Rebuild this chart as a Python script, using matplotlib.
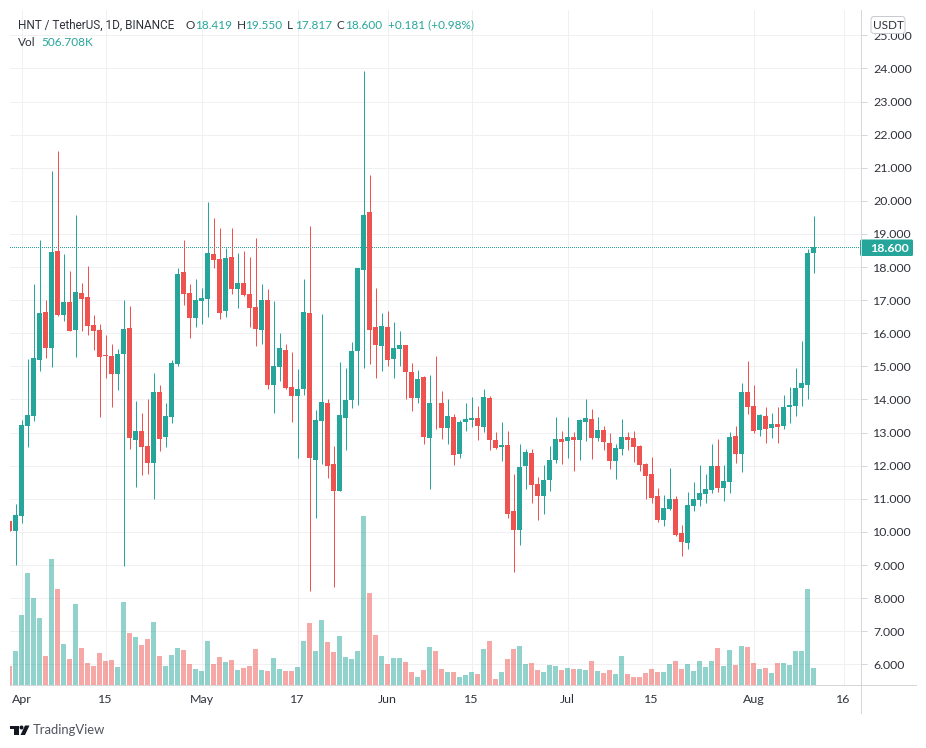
# -*- coding: utf-8 -*-
import numpy as np
import matplotlib
matplotlib.use("Agg")
import matplotlib.pyplot as plt
from matplotlib.patches import Circle, FancyBboxPatch, Polygon, Rectangle

plt.rcParams["font.family"] = ["Lato", "DejaVu Sans"]

# ---- data (day 0 = 1 Apr) ----
first_day = -2
opens = [10.33, 10.04, 10.48, 13.21, 13.50, 15.19, 16.64, 15.56, 18.49, 16.55, 16.95, 16.10, 17.22, 17.10, 16.25, 16.10,
         15.34, 15.31, 14.77, 15.37, 16.16, 12.78, 13.05, 12.60, 12.08, 14.23, 12.87, 13.47, 15.07, 17.85, 17.22, 16.46,
         16.98, 17.04, 18.40, 18.25, 16.67, 18.31, 17.34, 17.52, 17.18, 16.80, 16.10, 17.00, 14.43, 14.97, 15.49, 14.39,
         14.12, 14.31, 16.61, 12.18, 13.34, 13.88, 12.04, 11.24, 13.45, 13.97, 15.46, 17.91, 19.65, 16.19, 15.61, 16.19,
         15.22, 15.52, 15.64, 14.82, 14.06, 14.68, 12.84, 13.90, 13.90, 13.14, 13.47, 12.36, 13.32, 13.38, 13.44, 13.17,
         14.05, 12.78, 12.57, 12.63, 10.63, 10.06, 11.99, 12.39, 11.45, 11.09, 11.57, 12.17, 12.81, 12.75, 12.87, 12.78,
         13.32, 13.41, 12.84, 13.08, 12.69, 12.14, 12.51, 12.87, 12.84, 12.60, 12.05, 11.75, 11.09, 10.36, 10.69, 11.00,
         9.97, 9.67, 10.79, 10.97, 11.15, 11.27, 11.99, 11.33, 11.51, 12.90, 12.36, 14.23, 13.81, 13.08, 13.50, 13.14,
         13.26, 13.20, 13.78, 13.81, 14.35, 14.44, 18.419]
highs = [10.33, 10.84, 13.38, 15.22, 17.49, 18.82, 17.00, 20.90, 21.51, 18.40, 17.88, 19.57, 17.52, 18.03, 16.55, 16.28,
         15.95, 15.68, 15.53, 17.00, 16.82, 13.95, 13.59, 14.00, 14.80, 14.44, 13.89, 15.19, 17.97, 18.82, 17.49, 17.64,
         17.37, 19.97, 19.49, 19.18, 18.57, 19.19, 18.42, 18.49, 18.31, 18.88, 17.48, 17.34, 16.97, 16.00, 15.67, 15.43,
         14.92, 17.64, 19.25, 13.67, 16.58, 14.03, 12.61, 15.13, 14.95, 15.73, 17.97, 23.92, 20.79, 17.37, 16.61, 16.67,
         16.34, 16.06, 15.64, 15.09, 14.88, 14.71, 14.74, 15.32, 14.26, 14.02, 13.56, 13.38, 13.90, 14.08, 13.81, 14.32,
         14.11, 13.02, 13.32, 13.05, 11.75, 12.66, 12.51, 12.51, 11.66, 12.02, 12.60, 13.47, 13.05, 13.47, 13.02, 13.41,
         14.02, 13.72, 13.47, 13.20, 12.99, 12.66, 13.41, 13.02, 13.05, 12.62, 12.08, 12.27, 11.33, 11.12, 11.93, 11.09,
         10.21, 11.21, 11.51, 12.02, 11.75, 12.66, 12.81, 12.02, 13.02, 13.20, 14.50, 15.17, 14.44, 13.56, 13.78, 13.59,
         13.78, 14.14, 14.38, 14.95, 15.77, 18.55, 19.55]
lows = [10.04, 9.00, 10.28, 12.57, 13.35, 14.86, 15.25, 14.98, 16.52, 16.37, 16.07, 15.28, 16.07, 15.95, 15.50, 13.47,
        14.65, 13.77, 14.29, 8.97, 12.50, 11.36, 11.72, 11.75, 11.00, 12.44, 12.57, 13.29, 15.01, 16.86, 15.86, 16.19,
        16.28, 16.49, 17.98, 16.43, 16.49, 17.18, 16.76, 17.13, 16.19, 15.61, 15.67, 14.33, 13.58, 14.55, 14.31, 13.31,
        12.24, 14.15, 8.21, 10.43, 12.04, 11.64, 8.34, 11.24, 12.48, 13.75, 13.82, 14.95, 15.06, 14.65, 14.86, 15.00,
        14.65, 15.00, 14.03, 13.64, 13.88, 12.66, 11.30, 13.11, 12.81, 12.66, 12.02, 12.24, 13.05, 13.17, 12.78, 13.02,
        12.48, 12.51, 12.14, 10.42, 8.79, 9.61, 11.30, 10.88, 10.36, 10.54, 11.24, 12.08, 12.05, 12.24, 11.84, 12.17,
        12.75, 12.20, 12.75, 12.48, 11.90, 11.60, 12.33, 12.48, 12.11, 11.84, 11.00, 10.88, 10.30, 10.18, 10.66, 9.88,
        9.27, 9.49, 10.63, 10.79, 10.88, 11.18, 11.21, 10.94, 11.18, 12.08, 11.81, 13.56, 12.99, 12.90, 12.69, 12.84,
        12.69, 13.11, 13.29, 13.50, 13.81, 14.02, 17.817]
closes = [10.04, 10.51, 13.23, 13.53, 15.25, 16.61, 15.56, 18.46, 16.55, 16.95, 16.07, 17.25, 17.04, 16.22, 16.07, 15.28,
          15.31, 14.77, 15.37, 16.13, 12.84, 13.05, 12.57, 12.08, 14.23, 12.81, 13.50, 15.10, 17.79, 17.19, 16.46, 17.00,
          17.07, 18.43, 18.22, 16.61, 18.28, 17.34, 17.52, 17.15, 16.76, 16.13, 17.00, 14.43, 15.00, 15.55, 14.36, 14.12,
          14.33, 16.64, 12.24, 13.37, 13.91, 12.00, 11.24, 13.52, 13.97, 15.46, 17.97, 19.58, 16.10, 15.64, 16.22, 15.19,
          15.55, 15.64, 14.82, 14.06, 14.61, 12.87, 13.90, 13.88, 13.14, 13.50, 12.33, 13.32, 13.41, 13.44, 13.20, 14.08,
          12.78, 12.54, 12.63, 10.54, 10.06, 11.96, 12.42, 11.42, 11.09, 11.57, 12.17, 12.81, 12.72, 12.87, 12.78, 13.38,
          13.44, 12.84, 13.08, 12.72, 12.14, 12.54, 12.87, 12.78, 12.57, 12.02, 11.69, 11.03, 10.36, 10.72, 11.00, 9.91,
          9.70, 10.82, 11.00, 11.18, 11.30, 11.99, 11.33, 11.54, 12.87, 12.36, 14.23, 13.78, 13.05, 13.53, 13.11, 13.26,
          13.17, 13.78, 13.84, 14.35, 14.50, 18.43, 18.600]
volumes_k = [566, 1004, 2057, 3286, 2555, 1970, 858, 3695, 2818, 1209, 770, 2379, 1092, 653, 566, 946,
             712, 741, 536, 2438, 1531, 1414, 1180, 1355, 1853, 858, 566, 887, 1092, 1034, 624, 478,
             419, 1297, 624, 829, 683, 741, 449, 507, 566, 1063, 449, 419, 800, 478, 419, 419,
             536, 1297, 1823, 1004, 1911, 1268, 975, 1443, 829, 770, 1004, 4953, 2701, 1472, 858, 624,
             800, 800, 683, 390, 244, 449, 1121, 1004, 478, 390, 390, 244, 302, 390, 332, 1063,
             1297, 185, 390, 770, 1063, 1151, 624, 653, 449, 390, 595, 566, 449, 507, 478, 478,
             449, 712, 419, 361, 449, 332, 858, 332, 244, 244, 361, 478, 390, 390, 624, 712,
             478, 624, 419, 712, 536, 712, 1092, 566, 1034, 595, 1151, 1121, 653, 478, 507, 361,
             653, 653, 595, 1004, 1004, 2818, 507]

price_ticks = list(range(6, 26))
date_ticks = [0, 14, 30, 46, 61, 75, 91, 105, 122, 137]
date_labels = ["Apr", "15", "May", "17", "Jun", "15", "Jul", "15", "Aug", "16"]
last_price = 18.6

# ---- style ----
UP = "#26A69A"
DOWN = "#EF5350"
GRID = "#F0F0F2"
AXIS = "#D6D7DB"
TEXT = "#2F323B"
W, H = 926, 748


def px(n):
    """pixels to points at dpi 100"""
    return n * 0.72


days = np.arange(first_day, first_day + len(opens))
opens, highs, lows, closes = map(np.array, (opens, highs, lows, closes))
is_up = closes >= opens
colors = np.where(is_up, UP, DOWN)

fig = plt.figure(figsize=(W / 100, H / 100), dpi=100, facecolor="white")

# plot area runs 10..860.5 across, 10..685.3 down
left, right, top, bottom = 10, 860.5, 10, 685.3
rect = [left / W, 1 - bottom / H, (right - left) / W, (bottom - top) / H]
ax = fig.add_axes(rect)
ax.set_xlim((left - 21.5) / 6, (right - 21.5) / 6)
ax.set_ylim(6 + (664.3 - bottom) / 33.1, 6 + (664.3 - top) / 33.1)
for s in ax.spines.values():
    s.set_visible(False)
ax.set_xticks(date_ticks)
ax.set_xticklabels(date_labels, fontsize=px(12.4), color=TEXT)
ax.set_yticks(price_ticks)
ax.set_yticklabels([f"{p}.000" for p in price_ticks], fontsize=px(12.4), color=TEXT)
ax.yaxis.tick_right()
ax.tick_params(axis="x", length=0, pad=6)
ax.tick_params(axis="y", length=4, width=0.72, color=AXIS, pad=5)
ax.grid(True, color=GRID, linewidth=px(1))
ax.set_axisbelow(True)

# last price line sits behind the candles, no AA keeps the dots teal
price_line = ax.axhline(last_price, color=UP, linewidth=px(1), linestyle=(0, (1, 2)), zorder=1.5)
price_line.set_snap(True)
price_line.set_antialiased(False)

wicks = ax.vlines(days, lows, highs, colors=colors, linewidth=px(1), zorder=2)
wicks.set_snap(True)
ax.bar(days, np.abs(closes - opens), bottom=np.minimum(opens, closes), width=5 / 6,
       color=colors, linewidth=0, zorder=3)

# volume on its own scale, 506.7K is about 17.3 px tall
vol_ax = fig.add_axes(rect, sharex=ax)
vol_ax.set_ylim(0, (bottom - top) * 29.25)
vol_ax.patch.set_visible(False)
vol_ax.axis("off")
vol_ax.bar(days, volumes_k, width=5 / 6, color=colors, alpha=0.5, linewidth=0)

# ---- everything in plain pixel coordinates from here ----
over = fig.add_axes([0, 0, 1, 1], zorder=10)
over.set_xlim(0, W)
over.set_ylim(H, 0)
over.axis("off")

over.plot([right, right], [top, 712.5], color=AXIS, linewidth=px(1))
over.plot([left, 916], [bottom, bottom], color=AXIS, linewidth=px(1))

# legend rows
row1 = 25
over.text(18, row1, "HNT / TetherUS, 1D, BINANCE", color=TEXT, family="Roboto",
          fontsize=px(11.7), ha="left", va="center")
pieces = [
    (185.5, "O", TEXT), (195, "18.419", UP),
    (236.5, "H", TEXT), (245, "19.550", UP), (287, "L", TEXT), (295, "17.817", UP),
    (336.5, "C", TEXT), (345, "18.600", UP), (387.5, "+0.181 (+0.98%)", UP),
]
for x, s, c in pieces:
    over.text(x, row1, s, color=c, fontsize=px(11.8), ha="left", va="center")
over.text(18, 42.5, "Vol", color=TEXT, fontsize=px(11.8), ha="left", va="center")
over.text(41.5, 42.5, "506.708K", color=UP, fontsize=px(11.8), ha="left", va="center")

# currency badge covers part of the 25.000 label
over.add_patch(FancyBboxPatch((871, 16.5), 34, 17, boxstyle="round,pad=0,rounding_size=3",
                              facecolor="white", edgecolor="#C8CAD0", linewidth=px(1)))
over.text(888, 25, "USDT", color=TEXT, fontsize=px(11.8), ha="center", va="center")

# last price tag
over.add_patch(FancyBboxPatch((860, 239.5), 53, 16.5, boxstyle="round,pad=0,rounding_size=1.5",
                              facecolor=UP, edgecolor="none"))
over.text(870.5, 248, "18.600", color="white", fontsize=px(12.4), fontweight="bold", ha="left", va="center")

# logo, roughly
over.add_patch(Rectangle((10, 725.5), 9, 3.5, facecolor="#131722", edgecolor="none"))
over.add_patch(Rectangle((14, 725.5), 5, 9.5, facecolor="#131722", edgecolor="none"))
over.add_patch(Circle((21.5, 727.5), 2, facecolor="#131722", edgecolor="none"))
over.add_patch(Polygon([(25, 725.5), (29.5, 725.5), (25, 735), (20.5, 735)], facecolor="#131722", edgecolor="none"))
over.text(33, 730.5, "TradingView", color="#50535E", fontsize=px(13), ha="left", va="center")

fig.savefig("out.png", dpi=100, facecolor="white")
